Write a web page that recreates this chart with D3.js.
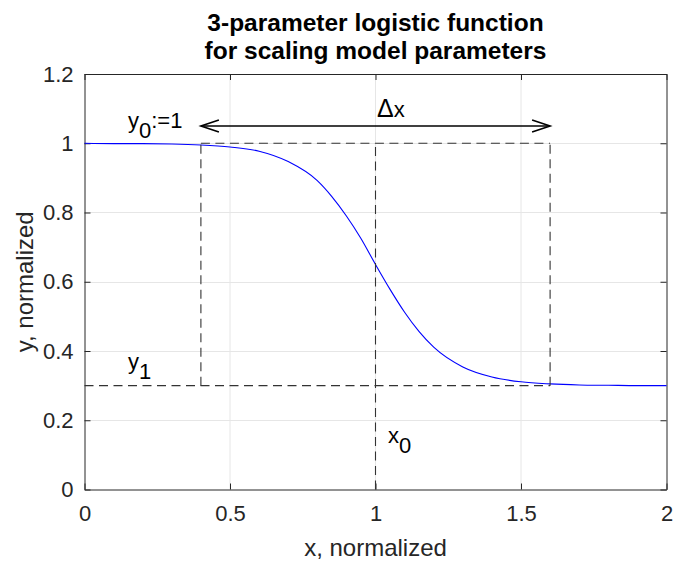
<!DOCTYPE html>
<html><head><meta charset="utf-8">
<script src="https://cdn.jsdelivr.net/npm/d3@7"></script>
<style>
html,body{margin:0;padding:0;background:#fff;}
text{font-family:"Liberation Sans",Arial,sans-serif;}
</style></head>
<body>
<svg id="chart" width="673" height="563"></svg>
<script>
// ---- data ----
const curveX = [0, 0.1, 0.2, 0.3, 0.4, 0.5, 0.6, 0.7, 0.8, 0.85, 0.9, 0.95, 1.0, 1.05, 1.1, 1.15, 1.2, 1.3, 1.4, 1.5, 1.6, 1.7, 1.8, 1.9, 2.0];
const curveY = [1.000, 0.999, 0.999, 0.998, 0.995, 0.989, 0.977, 0.947, 0.892, 0.846, 0.790, 0.725, 0.650, 0.578, 0.512, 0.456, 0.411, 0.354, 0.325, 0.311, 0.305, 0.302, 0.301, 0.300, 0.300];
const xTicks = [0, 0.5, 1, 1.5, 2];
const xTickLabels = ["0", "0.5", "1", "1.5", "2"];
const yTicks = [0, 0.2, 0.4, 0.6, 0.8, 1, 1.2];
const yTickLabels = ["0", "0.2", "0.4", "0.6", "0.8", "1", "1.2"];
const xDomain = [0, 2];
const yDomain = [0, 1.2];
const y0Level = 1, y1Level = 0.3, x0Pos = 1;
const dxStart = 0.4, dxEnd = 1.6, arrowY = 1.05;
const titleLines = ["3-parameter logistic function", "for scaling model parameters"];
const xLabel = "x, normalized", yLabel = "y, normalized";

// ---- layout ----
const svg = d3.select("#chart");
const L = 84.5, R = 666.5, T = 74, B = 489.5;
const x = d3.scaleLinear().domain(xDomain).range([L, R]);
const y = d3.scaleLinear().domain(yDomain).range([B, T]);
const axisCol = "#262626";
const FONT = '"Liberation Sans",Arial,sans-serif';

// grid
const grid = svg.append("g");
grid.selectAll(".gx").data(xTicks.slice(1, -1)).join("line")
  .attr("x1", d => x(d)).attr("x2", d => x(d)).attr("y1", T).attr("y2", B)
  .attr("stroke", "#e6e6e6").attr("stroke-width", 1);
grid.selectAll(".gy").data(yTicks.slice(1, -1)).join("line")
  .attr("y1", d => Math.round(y(d)) + 0.5).attr("y2", d => Math.round(y(d)) + 0.5).attr("x1", L).attr("x2", R)
  .attr("stroke", "#e6e6e6").attr("stroke-width", 1);

// axes (MATLAB style: inward ticks, box)
const tick = 6;
const xb = svg.append("g").attr("transform", `translate(0,${B})`)
  .call(d3.axisBottom(x).tickValues(xTicks).tickFormat((d, i) => xTickLabels[i]).tickSizeInner(-tick).tickSizeOuter(0).tickPadding(16));
const xt = svg.append("g").attr("transform", `translate(0,${T})`)
  .call(d3.axisTop(x).tickValues(xTicks).tickFormat("").tickSizeInner(-tick).tickSizeOuter(0));
const yl = svg.append("g").attr("transform", `translate(${L},0)`)
  .call(d3.axisLeft(y).tickValues(yTicks).tickFormat((d, i) => yTickLabels[i]).tickSizeInner(-tick).tickSizeOuter(0).tickPadding(11));
const yr = svg.append("g").attr("transform", `translate(${R},0)`)
  .call(d3.axisRight(y).tickValues(yTicks).tickFormat("").tickSizeInner(-tick).tickSizeOuter(0));
[xb, xt, yl, yr].forEach(g => {
  g.selectAll("path,line").attr("stroke", axisCol).attr("stroke-width", 1);
  g.selectAll("text").attr("fill", axisCol).attr("font-size", 22).attr("font-family", FONT);
});

// curve
const line = d3.line().x(d => x(d[0])).y(d => y(d[1])).curve(d3.curveMonotoneX);
svg.append("path").datum(curveX.map((v, i) => [v, curveY[i]]))
  .attr("d", line).attr("fill", "none").attr("stroke", "#0000ff").attr("stroke-width", 1.1);

// dashed guide lines
const dash = "9,5.5";
const guides = [
  [xDomain[0], y1Level, dxEnd, y1Level],
  [dxStart, y0Level, dxEnd, y0Level],
  [dxStart, y1Level, dxStart, y0Level],
  [dxEnd, y1Level, dxEnd, y0Level],
  [x0Pos, yDomain[0], x0Pos, y0Level]
];
svg.append("g").selectAll("line").data(guides).join("line")
  .attr("x1", d => x(d[0])).attr("y1", d => y(d[1])).attr("x2", d => x(d[2])).attr("y2", d => y(d[3]))
  .attr("stroke", "#333").attr("stroke-width", 1.1).attr("stroke-dasharray", dash);

// double arrow
const ay = y(arrowY);
const ag = svg.append("g").attr("stroke", "#000").attr("stroke-width", 1.6).attr("fill", "none");
ag.append("line").attr("x1", x(dxStart)).attr("x2", x(dxEnd)).attr("y1", ay).attr("y2", ay);
ag.append("path").attr("d", `M${x(dxStart) + 18},${ay - 6}L${x(dxStart)},${ay}L${x(dxStart) + 18},${ay + 6}`);
ag.append("path").attr("d", `M${x(dxEnd) - 18},${ay - 6}L${x(dxEnd)},${ay}L${x(dxEnd) - 18},${ay + 6}`);

// annotation texts
function sub(xp, yp, main, s, rest) {
  const t = svg.append("text").attr("x", xp).attr("y", yp).attr("font-size", 22).attr("fill", "#000");
  t.append("tspan").text(main);
  t.append("tspan").attr("dy", 9.5).text(s);
  if (rest) t.append("tspan").attr("dy", -9.5).text(rest);
}
sub(128, 128, "y", "0", ":=1");
sub(128, 369, "y", "1");
sub(388, 443, "x", "0");
const dxt = svg.append("text").attr("x", 377).attr("y", 117).attr("font-size", 22).attr("fill", "#000");
dxt.append("tspan").attr("font-size", 25).text("Δ");
dxt.append("tspan").text("x");

// title
svg.append("g").selectAll("text").data(titleLines).join("text")
  .attr("x", (L + R) / 2).attr("y", (d, i) => 31 + i * 27.5)
  .attr("text-anchor", "middle").attr("font-weight", "bold").attr("font-size", 24.5).attr("fill", "#000")
  .text(d => d);

// axis labels
svg.append("text").attr("x", (L + R) / 2).attr("y", 556).attr("text-anchor", "middle")
  .attr("font-size", 24).attr("fill", axisCol).text(xLabel);
svg.append("text").attr("transform", `translate(33,${(T + B) / 2}) rotate(-90)`).attr("text-anchor", "middle")
  .attr("font-size", 24).attr("fill", axisCol).text(yLabel);
</script>
</body></html>
